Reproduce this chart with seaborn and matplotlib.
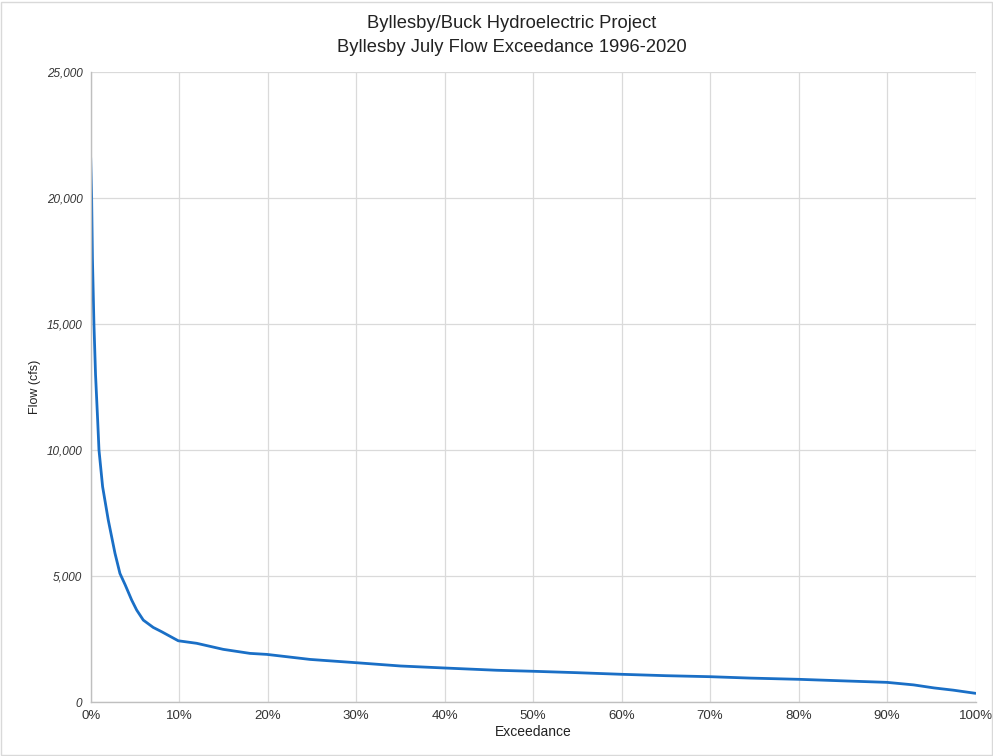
import matplotlib
matplotlib.use("Agg")
import matplotlib.pyplot as plt
import seaborn as sns
import pandas as pd
from matplotlib.ticker import FuncFormatter, MultipleLocator

exceedance_pct = [0.0, 0.11, 0.2, 0.37, 0.55, 0.79, 0.94, 1.35, 1.99, 2.75, 3.31, 3.9,
                  4.63, 5.2, 5.95, 7.07, 8.02, 9.9, 11.98, 14.98, 18.0, 19.9, 24.8,
                  30.0, 35.0, 40.0, 45.9, 50.0, 54.9, 60.0, 65.0,
                  70.0, 74.5, 80.1, 85.0, 90.0, 93.0, 95.3, 97.5, 100.0]
flow_cfs = [21600, 20000, 17600, 15000, 13000, 11190, 10000, 8545, 7220, 5900, 5100, 4650,
            4050, 3650, 3250, 2960, 2790, 2430, 2330, 2090, 1930, 1890, 1690,
            1560, 1430, 1350, 1260, 1220, 1165, 1100, 1045,
            1005, 950, 900, 840, 780, 680, 560, 470, 345]

title_lines = ["Byllesby/Buck Hydroelectric Project", "Byllesby July Flow Exceedance 1996-2020"]

df = pd.DataFrame({"Exceedance": exceedance_pct, "Flow": flow_cfs})

sns.set_theme(style="white")
plt.rcParams['font.family'] = ['Liberation Sans', 'DejaVu Sans']

fig = plt.figure(figsize=(9.93, 7.56), dpi=100)
ax = fig.add_axes([0.0913, 0.0714, 0.8911, 0.8334])

sns.lineplot(data=df, x="Exceedance", y="Flow", ax=ax, color="#1a6fc6", linewidth=2.0)

ax.set_xlim(0, 100)
ax.set_ylim(0, 25000)
ax.xaxis.set_major_locator(MultipleLocator(10))
ax.yaxis.set_major_locator(MultipleLocator(5000))
ax.xaxis.set_major_formatter(FuncFormatter(lambda v, p: f"{int(round(v))}%"))
ax.yaxis.set_major_formatter(FuncFormatter(lambda v, p: f"{int(v):,}"))
ax.grid(True, color="#dadada", linewidth=0.9)
ax.set_axisbelow(True)
for s in ["top", "right"]:
    ax.spines[s].set_visible(False)
for s in ["left", "bottom"]:
    ax.spines[s].set_color("#bfbfbf")
    ax.spines[s].set_linewidth(1.0)

ax.tick_params(axis="x", labelsize=9.5, colors="#333333", length=0, pad=6)
ax.tick_params(axis="y", labelsize=8.5, colors="#333333", length=0, pad=6)
for lab in ax.get_yticklabels():
    lab.set_fontstyle("italic")

ax.set_xlabel("Exceedance", fontsize=10, color="#222222", labelpad=2)
ax.set_ylabel("Flow (cfs)", fontsize=9, color="#222222", labelpad=4)

fig.text(0.515, 0.980, title_lines[0], ha="center", va="top", fontsize=13.2, color="#222222")
fig.text(0.515, 0.948, title_lines[1], ha="center", va="top", fontsize=13.2, color="#222222")

fig.patches.append(plt.Rectangle((0.001, 0.001), 0.998, 0.997, transform=fig.transFigure,
                                 fill=False, edgecolor="#d9d9d9", linewidth=1.0))

fig.savefig("out.png", dpi=100)
